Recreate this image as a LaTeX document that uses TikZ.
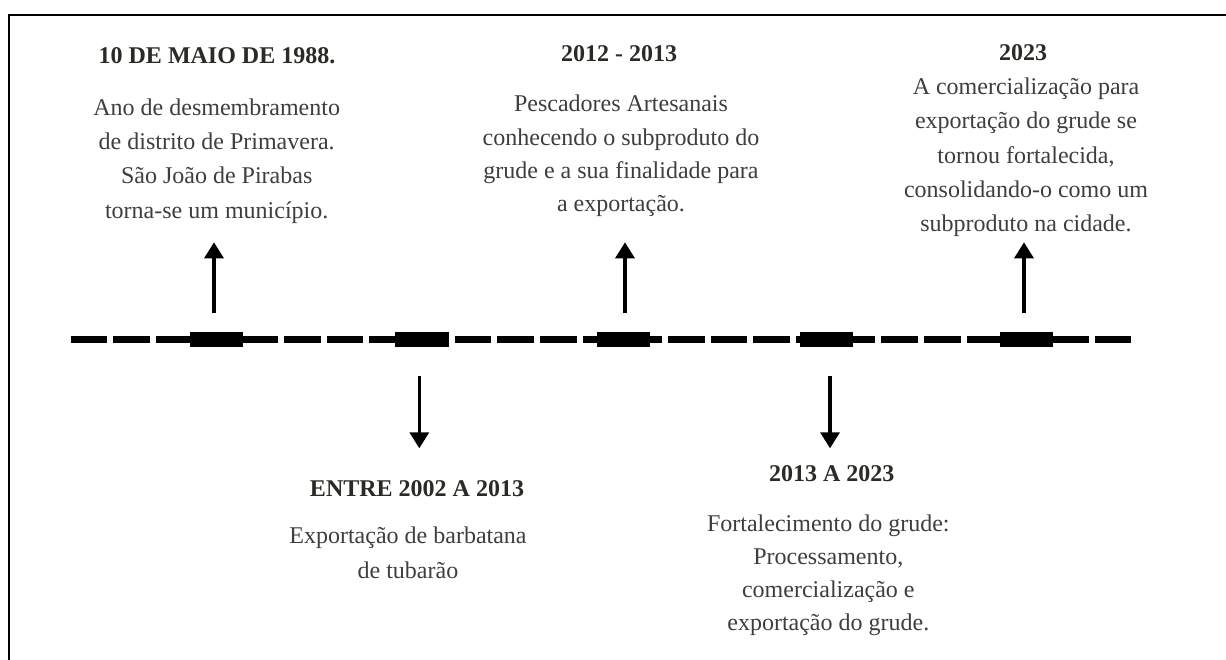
\documentclass[tikz,border=0pt]{standalone}
\usepackage{fontspec}
\setmainfont{Liberation Serif}
\usetikzlibrary{arrows.meta}
\definecolor{titlecol}{RGB}{40,44,36}
\definecolor{bodycol}{RGB}{62,62,62}
\tikzset{
  evtitle/.style={font=\fontsize{24}{34}\selectfont\bfseries, text=titlecol, inner sep=0pt, anchor=base},
  evbody/.style={font=\fontsize{24}{34}\selectfont, text=bodycol, align=center, inner sep=0pt, anchor=north},
  mark block/.style={fill=black, draw=none, inner sep=0pt, minimum width=53.3pt, minimum height=14.4pt},
  timeline/.style={line width=6.7pt, dash pattern=on 36.67pt off 6pt},
  evarrow/.style={line width=3.3pt, -{Triangle[width=19pt,length=16pt]}},
  frame/.style={line width=2.2pt}
}
\begin{document}
\begin{tikzpicture}[x=1pt,y=-1pt]
\clip (0,0) rectangle (1226,659);
\fill[white] (0,0) rectangle (1226,659);
% frame (open beyond the picture edges)
\coordinate (f1) at (8.7,700);
\coordinate (f2) at (8.7,15);
\coordinate (f3) at (1260,15);
\draw[frame] (f1) -- (f2) -- (f3);
% timeline
\coordinate (tl0) at (70.7,339.4);
\coordinate (tl1) at (1131.3,339.4);
\draw[timeline] (tl0) -- (tl1);
\node[mark block] (m1) at (216.7,339.5) {};
\node[mark block] (m2) at (422.0,339.5) {};
\node[mark block] (m3) at (623.3,339.5) {};
\node[mark block] (m4) at (826.7,339.5) {};
\node[mark block] (m5) at (1026.7,339.5) {};
% arrows
\coordinate (u1a) at (214,313.3);   \coordinate (u1b) at (214,242.3);
\coordinate (u2a) at (625,313.3);   \coordinate (u2b) at (625,242.3);
\coordinate (u3a) at (1024,313.3);  \coordinate (u3b) at (1024,242.3);
\coordinate (d1a) at (419.3,375.7); \coordinate (d1b) at (419.3,448.3);
\coordinate (d2a) at (830,375.7);   \coordinate (d2b) at (830,448.3);
\draw[evarrow] (u1a) -- (u1b);
\draw[evarrow] (u2a) -- (u2b);
\draw[evarrow] (u3a) -- (u3b);
\draw[evarrow] (d1a) -- (d1b);
\draw[evarrow] (d2a) -- (d2b);
% texts above
\node[evtitle] (t1) at (217,63.3) {10 DE MAIO DE 1988.};
\node[evbody, font=\fontsize{24}{34.3}\selectfont] (b1) at (216.7,90.99) {\strut Ano de desmembramento\\de distrito de Primavera.\\São João de Pirabas\\torna-se um município.};
\node[evtitle] (t2) at (619,61.7) {2012 - 2013};
\node[evbody, font=\fontsize{24}{33.3}\selectfont] (b2) at (621,88.39) {\strut Pescadores Artesanais\\conhecendo o subproduto do\\grude e a sua finalidade para\\a exportação.};
\node[evtitle] (t3) at (1023,60.7) {2023};
\node[evbody, font=\fontsize{24}{34.3}\selectfont] (b3) at (1026,70.29) {\strut A comercialização para\\exportação do grude se\\tornou fortalecida,\\consolidando-o como um\\subproduto na cidade.};
% texts below
\node[evtitle] (t4) at (417,496.7) {ENTRE 2002 A 2013};
\node[evbody, font=\fontsize{24}{35}\selectfont] (b4) at (408,518.8) {\strut Exportação de barbatana\\de tubarão};
\node[evtitle] (t5) at (831.7,481.7) {2013 A 2023};
\node[evbody, font=\fontsize{24}{32.8}\selectfont] (b5) at (828.3,508.74) {\strut Fortalecimento do grude:\\Processamento,\\comercialização e\\exportação do grude.};
\end{tikzpicture}
\end{document}
